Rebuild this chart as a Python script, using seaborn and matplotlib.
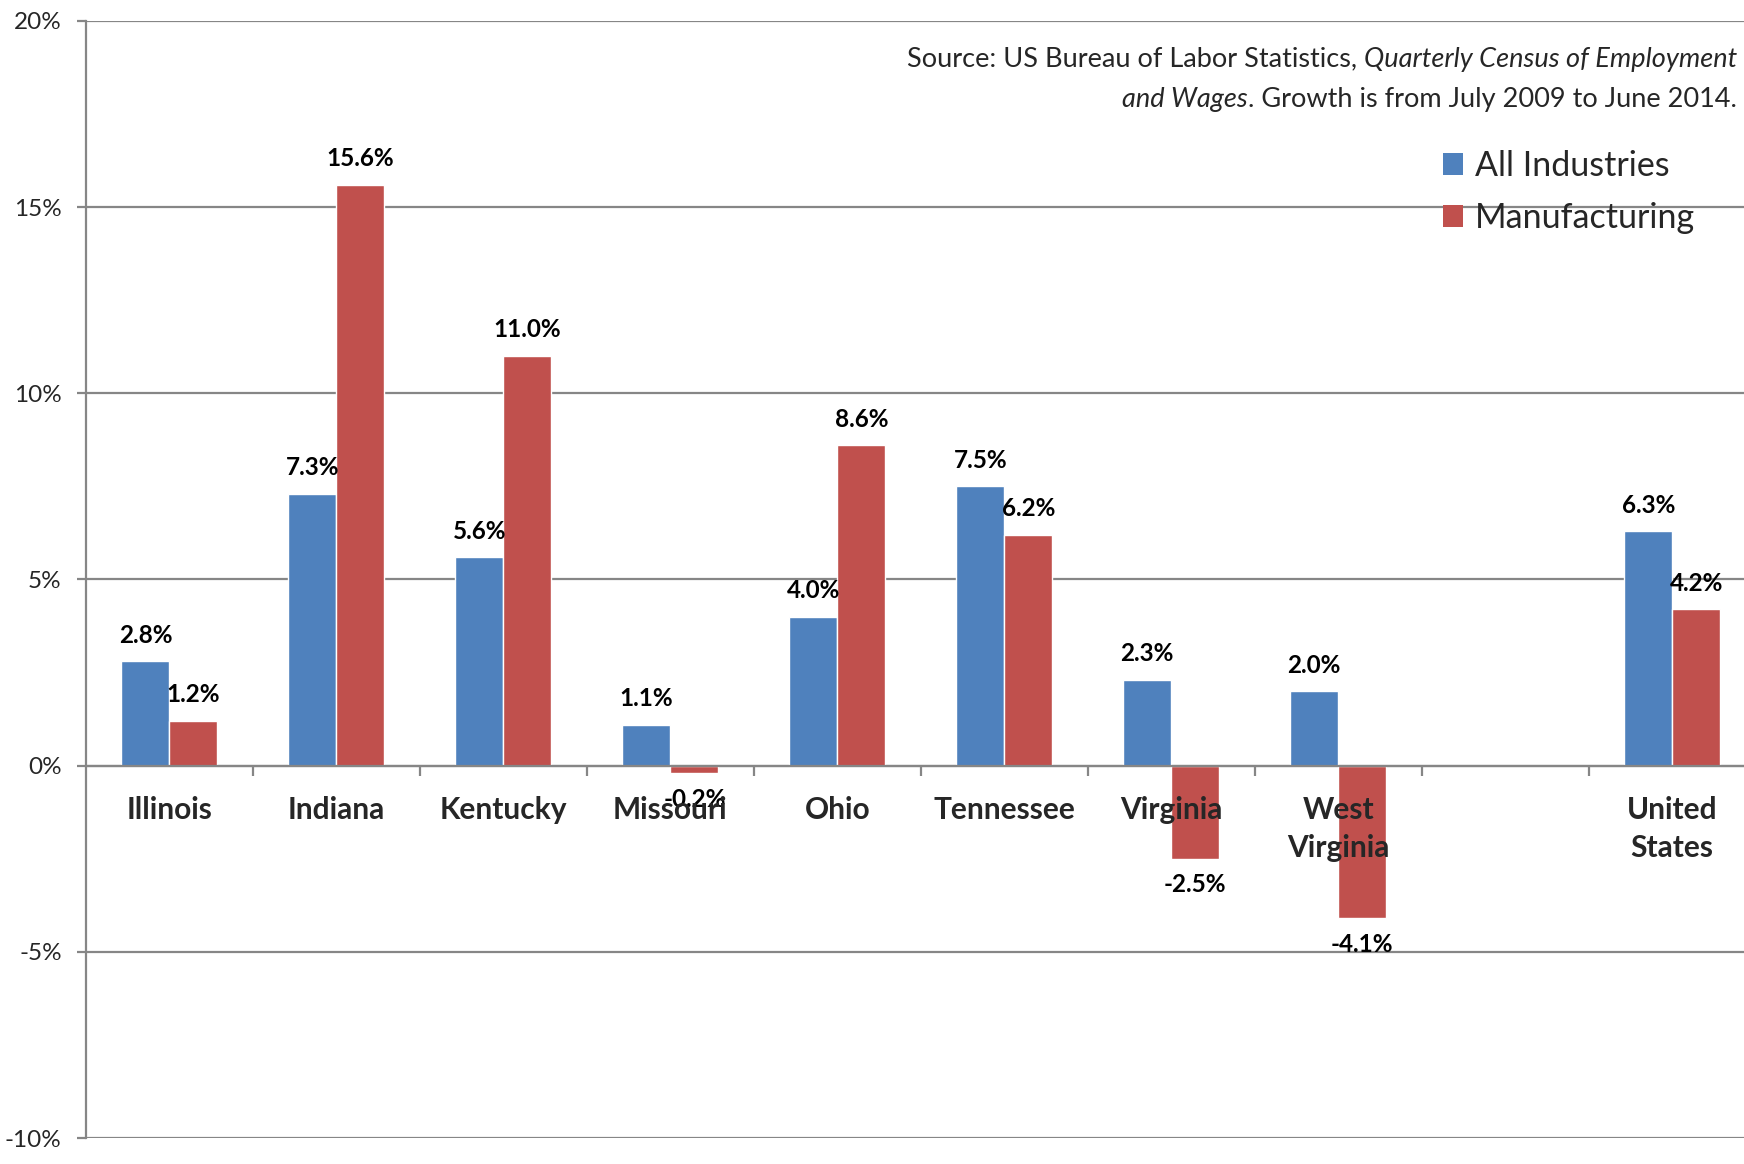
import matplotlib
matplotlib.use("Agg")
import matplotlib.pyplot as plt
from matplotlib.offsetbox import TextArea, HPacker, VPacker, AnchoredOffsetbox
from matplotlib.patches import Patch
import numpy as np
import pandas as pd
import seaborn as sns

states = ["Illinois", "Indiana", "Kentucky", "Missouri", "Ohio", "Tennessee",
          "Virginia", "West\nVirginia", " ", "United\nStates"]
all_industries = [2.8, 7.3, 5.6, 1.1, 4.0, 7.5, 2.3, 2.0, np.nan, 6.3]
manufacturing = [1.2, 15.6, 11.0, -0.2, 8.6, 6.2, -2.5, -4.1, np.nan, 4.2]
series = ["All Industries", "Manufacturing"]
colors = ["#4F81BD", "#C0504D"]
y_ticks = [-10, -5, 0, 5, 10, 15, 20]

df = pd.concat([
    pd.DataFrame({"state": states, "series": series[0], "value": all_industries}),
    pd.DataFrame({"state": states, "series": series[1], "value": manufacturing}),
]).dropna()

sns.set_style("white")
plt.rcParams["font.family"] = ["Lato", "DejaVu Sans"]

grey = "#868686"
fig = plt.figure(figsize=(17.44, 11.64), dpi=100)
ax = fig.add_axes([0.0493, 0.0223, 0.9507, 0.9597])

sns.barplot(data=df, x="state", y="value", hue="series", order=states,
            hue_order=series, palette=colors, saturation=1, width=0.575,
            dodge=True, legend=False, ax=ax)

for cont in ax.containers:
    labels = [f"{v:.1f}%" for v in cont.datavalues]
    ax.bar_label(cont, labels=labels, padding=10.5, fontsize=17.5,
                 fontweight="bold", color="black")

ax.set_ylim(-10, 20)
ax.set_xlim(-0.5, 9.43)
ax.set_yticks(y_ticks)
ax.set_yticklabels([f"{t}%" for t in y_ticks], fontsize=17.5)
ax.yaxis.grid(True, color=grey, lw=1.6)
ax.set_axisbelow(True)
ax.xaxis.set_zorder(5)
ax.set_xlabel("")
ax.set_ylabel("")

for s in ["top", "right"]:
    ax.spines[s].set_visible(False)
ax.spines["left"].set_color(grey)
ax.spines["left"].set_linewidth(1.6)
ax.spines["bottom"].set_color(grey)
ax.spines["bottom"].set_linewidth(1.6)
ax.spines["bottom"].set_position(("data", 0))

ax.tick_params(axis="y", direction="out", length=6.5, width=1.6, color=grey,
               pad=11, left=True)
ax.set_xticks(np.arange(0.5, 9.5, 1), minor=True)
ax.tick_params(axis="x", which="major", length=0, pad=21.5)
ax.tick_params(axis="x", which="minor", direction="out", length=7, width=1.6,
               color=grey, bottom=True)
for lab in ax.get_xticklabels():
    lab.set_fontsize(21.5)
    lab.set_fontweight("bold")
    lab.set_verticalalignment("top")
    lab.set_linespacing(1.45)

# legend
handles = [Patch(facecolor=c, edgecolor="none") for c in colors]
fig.legend(handles, series, loc="upper left", bbox_to_anchor=(0.8274, 0.871),
           frameon=False, fontsize=24.5, handlelength=0.6, handleheight=0.6,
           handletextpad=0.35, labelspacing=0.58, borderpad=0, borderaxespad=0)

# source note
fs = 19.5
line1 = HPacker(children=[
    TextArea("Source: US Bureau of Labor Statistics, ", textprops=dict(fontsize=fs)),
    TextArea("Quarterly Census of Employment", textprops=dict(fontsize=fs, style="italic")),
], sep=0, pad=0, align="baseline")
line2 = HPacker(children=[
    TextArea("and Wages", textprops=dict(fontsize=fs, style="italic")),
    TextArea(". Growth is from July 2009 to June 2014.", textprops=dict(fontsize=fs)),
], sep=0, pad=0, align="baseline")
note = VPacker(children=[line1, line2], sep=11, pad=0, align="right")
anch = AnchoredOffsetbox(loc="upper right", child=note, frameon=False, pad=0,
                         borderpad=0, bbox_to_anchor=(0.996, 0.960),
                         bbox_transform=fig.transFigure)
fig.add_artist(anch)

fig.savefig("out.png", dpi=100)
